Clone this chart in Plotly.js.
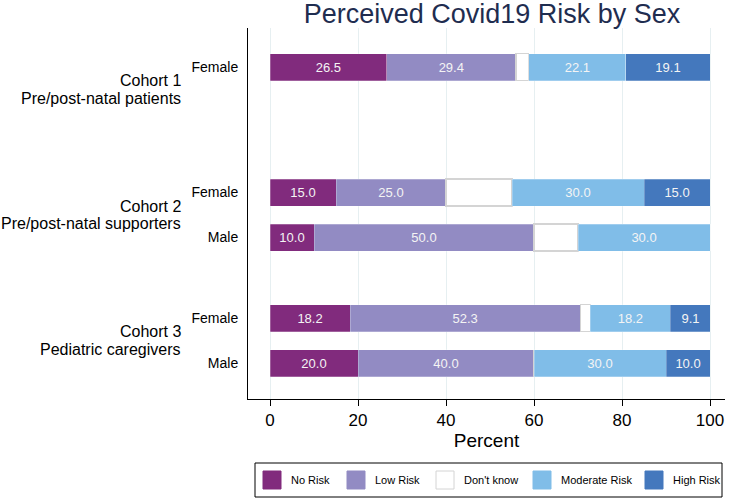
<!DOCTYPE html>
<html>
<head>
<meta charset="utf-8">
<script src="https://cdn.plot.ly/plotly-3.0.1.min.js"></script>
<style>html,body{margin:0;padding:0;background:#fff;}#chart{width:729px;height:498px;}</style>
</head>
<body>
<div id="chart"></div>
<script>
// ---- data ----
var cohortNames = ["Cohort 1", "Cohort 2", "Cohort 3"];
var cohortDescriptions = ["Pre/post-natal patients", "Pre/post-natal supporters", "Pediatric caregivers"];
var rowCohort = [0, 1, 1, 2, 2];
var rowSex = ["Female", "Female", "Male", "Female", "Male"];
var riskCategories = ["No Risk", "Low Risk", "Don't know", "Moderate Risk", "High Risk"];
var noRisk       = [26.5, 15.0, 10.0, 18.2, 20.0];
var lowRisk      = [29.4, 25.0, 50.0, 52.3, 40.0];
var dontKnow     = [2.9, 15.0, 10.0, 2.3, 0.0];
var moderateRisk = [22.1, 30.0, 30.0, 18.2, 30.0];
var highRisk     = [19.1, 15.0, 0.0, 9.1, 10.0];
var xTickValues = [0, 20, 40, 60, 80, 100];

// ---- layout helpers ----
var W = 729, H = 498;
var M = { l: 248, r: 4, t: 28, b: 99 };
var plotW = W - M.l - M.r, plotH = H - M.t - M.b;
function px(xp) { return (xp - M.l) / plotW; }
function py(yp) { return (H - M.b - yp) / plotH; }

var groupStep = 2.79;
var rowPos = rowCohort.map(function (c, i) { return c * groupStep + (rowSex[i] === "Male" ? 1 : 0); });
var colors = ["#812b7d", "#928bc3", "#ffffff", "#80bde8", "#4478bd"];
var seriesValues = [noRisk, lowRisk, dontKnow, moderateRisk, highRisk];
var FONT = "Liberation Sans, Arial, sans-serif";

var traces = seriesValues.map(function (vals, k) {
  var showText = k !== 2;
  return {
    type: "bar",
    orientation: "h",
    name: riskCategories[k],
    x: vals,
    y: rowPos,
    width: 0.6,
    marker: {
      color: colors[k],
      line: { color: k === 2 ? "#d4d4d4" : "rgba(255,255,255,0.5)", width: k === 2 ? 1.2 : 0.5 }
    },
    text: vals.map(function (v) { return (showText && v > 0) ? v.toFixed(1) : ""; }),
    textposition: "inside",
    insidetextanchor: "middle",
    constraintext: "none",
    textfont: { family: FONT, size: 13, color: "#f4f4f4" },
    hoverinfo: "x+name",
    showlegend: false
  };
});

var annotations = [];
cohortNames.forEach(function (name, c) {
  var mid = c * groupStep + 0.5;
  annotations.push({
    xref: "paper", yref: "y", x: -0.136, y: mid - 0.19, xanchor: "right", yanchor: "middle",
    text: name, showarrow: false,
    font: { family: FONT, size: 16, color: "#000" }
  });
  annotations.push({
    xref: "paper", yref: "y", x: -0.136, y: mid + 0.19, xanchor: "right", yanchor: "middle",
    text: cohortDescriptions[c], showarrow: false,
    font: { family: FONT, size: 16, color: "#000" }
  });
});

// ---- custom legend (box, swatches, labels) ----
var shapes = [{
  type: "rect", xref: "paper", yref: "paper",
  x0: px(255), x1: px(722), y0: py(463), y1: py(497),
  line: { color: "#000", width: 1 }, fillcolor: "rgba(0,0,0,0)", layer: "above"
}];
var legendSwatchX = [263, 347, 436, 533, 645];
riskCategories.forEach(function (name, k) {
  var sx = legendSwatchX[k];
  shapes.push({
    type: "rect", xref: "paper", yref: "paper",
    x0: px(sx), x1: px(sx + 18), y0: py(471), y1: py(489),
    fillcolor: colors[k],
    line: { color: k === 2 ? "#d4d4d4" : colors[k], width: 1 }, layer: "above"
  });
  annotations.push({
    xref: "paper", yref: "paper", x: px(sx + 26), y: py(480),
    xanchor: "left", yanchor: "middle", showarrow: false,
    text: name, font: { family: FONT, size: 11, color: "#000" }
  });
});

var layout = {
  width: W, height: H,
  margin: M,
  paper_bgcolor: "#fff", plot_bgcolor: "#fff",
  barmode: "stack",
  showlegend: false,
  font: { family: FONT, color: "#000" },
  title: {
    text: "Perceived Covid19 Risk by Sex",
    font: { family: FONT, size: 27, color: "#1f2d50" },
    x: px(492), xref: "paper", xanchor: "center",
    y: 1 - 14 / H, yref: "container", yanchor: "middle"
  },
  xaxis: {
    range: [-5, 103.4],
    tickvals: xTickValues,
    ticktext: xTickValues.map(String),
    ticks: "outside", ticklen: 6, tickcolor: "#000", tickwidth: 1,
    showline: true, linecolor: "#000", linewidth: 1,
    showgrid: true, gridcolor: "#e6eff1", gridwidth: 1,
    zeroline: false,
    tickfont: { size: 17, color: "#000" },
    title: { text: "Percent", font: { size: 19, color: "#000" }, standoff: 2 },
    fixedrange: true
  },
  yaxis: {
    range: [7.38, -0.867],
    tickvals: rowPos,
    ticktext: rowSex,
    ticks: "outside", ticklen: 6, tickcolor: "rgba(0,0,0,0)",
    showline: true, linecolor: "#000", linewidth: 1,
    showgrid: false, zeroline: false,
    tickfont: { size: 14, color: "#000" },
    fixedrange: true
  },
  shapes: shapes,
  annotations: annotations
};

Plotly.newPlot("chart", traces, layout, { displayModeBar: false, staticPlot: true });
</script>
</body>
</html>
